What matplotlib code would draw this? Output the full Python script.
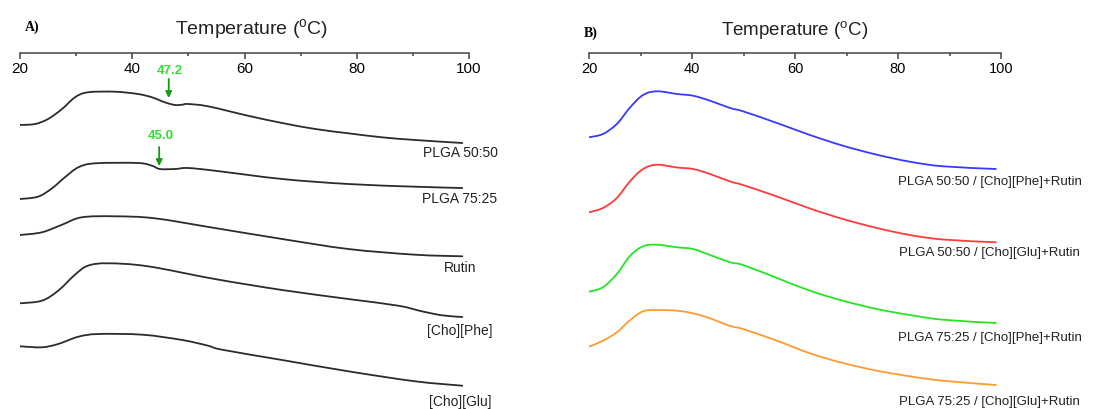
import numpy as np
import matplotlib.pyplot as plt
from matplotlib.path import Path
from matplotlib.patches import PathPatch

plt.rcParams['font.family'] = ['Liberation Sans', 'DejaVu Sans']

# ---- panel A: DSC traces (y in plot units, downward = larger) ----
t_5050 = [20, 22.7, 25.0, 27.5, 29.8, 32.1, 36.9, 41.0, 43.5, 45.8, 47.6, 48.9, 49.9, 53.5, 60.6, 66.7, 72.6, 78.5, 84.5, 90.4, 98.8]
y_5050 = [126, 125, 120, 110, 98.3, 93.3, 92.7, 95, 98.3, 103.3, 106, 105.7, 105, 107.3, 116.7, 124, 130, 134.3, 138.3, 141, 144]

t_7525 = [20, 23.2, 25.7, 28.0, 30.4, 33.4, 41.0, 43.5, 44.9, 47.6, 49.9, 54.7, 66.7, 78.5, 90.4, 98.8]
y_7525 = [200, 197.7, 189.3, 178.3, 168.3, 164.3, 164, 166.7, 170, 170, 169, 171.7, 180, 185, 187.7, 189]

t_rutin = [20, 23.9, 27.5, 31.0, 36.9, 44.0, 54.7, 66.7, 78.5, 90.4, 98.8]
y_rutin = [236, 233.3, 225.7, 218.3, 217.3, 219.3, 229, 240, 250, 255.7, 257.3]

t_phe = [20, 23.9, 26.8, 29.8, 32.1, 35.7, 42.8, 54.7, 66.7, 78.5, 87.4, 91.6, 95.2, 98.8]
y_phe = [304.3, 301.7, 291.7, 275.7, 266.7, 264.3, 267.3, 280, 291, 300, 306.7, 312.3, 316.3, 318]

t_glu = [20, 23.9, 26.8, 30.4, 34.0, 41.8, 48.9, 53.5, 56.0, 66.7, 78.5, 90.4, 98.8]
y_glu = [347.3, 348.3, 345, 337.7, 335, 335.7, 341, 346.7, 350.7, 361, 372.3, 382.3, 386.7]

names_a = ['PLGA 50:50', 'PLGA 75:25', 'Rutin', '[Cho][Phe]', '[Cho][Glu]']
label_y_a = [153, 199, 267.7, 330.7, 401.7]

# transition markers (label, x position, text y, arrow tail y, arrow tip y)
tg_labels = ['47.2', '45.0']
tg_x = [46.5, 44.8]
tg_text_y = [71, 136]
tg_tail_y = [80, 148]
tg_tip_y = [99, 167]

# ---- panel B ----
t_b = [20, 22.7, 25.4, 28.0, 30.5, 33.2, 37.1, 40.2, 43.5, 47.4, 49.9, 56.5, 62.9, 69.3, 75.9, 82.3, 88.7, 99.0]
y_5050_phe = [138.3, 135, 125, 108.3, 96, 92.3, 95, 96.7, 101.7, 109, 112.3, 124, 136, 146.7, 155.7, 162.7, 167.3, 170]
y_5050_glu = [213.3, 209, 199, 182, 170, 165.7, 168.5, 170, 175, 182.5, 186, 197.5, 209.5, 220, 229, 236, 240.5, 243.3]
y_7525_phe = [292.7, 288.3, 275, 256.7, 247.3, 245.7, 248.3, 250, 256, 263.3, 266, 279, 291.7, 301.7, 310, 316, 320.7, 324]
y_7525_glu = [347.7, 341.7, 333.3, 321, 312.3, 311, 311.7, 314.3, 319.3, 327, 330, 341.7, 354.3, 364, 371.7, 377.3, 381.7, 386]

names_b = ['PLGA 50:50 / [Cho][Phe]+Rutin', 'PLGA 50:50 / [Cho][Glu]+Rutin',
           'PLGA 75:25 / [Cho][Phe]+Rutin', 'PLGA 75:25 / [Cho][Glu]+Rutin']
label_y_b = [181.7, 253.3, 338.3, 401.7]
colors_b = ['#3838ff', '#ff3a3a', '#22e622', '#ff9a30']

W, H = 1094, 410
fig = plt.figure(figsize=(W / 100, H / 100), dpi=100)


def smooth_line(ax, xs, ys, color, lw=1.3):
    # draw the points as a Catmull-Rom curve made of cubic Bezier segments
    p = np.column_stack([xs, ys]).astype(float)
    ext = np.vstack([p[0], p, p[-1]])
    verts = [tuple(p[0])]
    codes = [Path.MOVETO]
    for i in range(1, len(ext) - 2):
        p0, p1, p2, p3 = ext[i - 1], ext[i], ext[i + 1], ext[i + 2]
        c1 = p1 + (p2 - p0) / 6
        c2 = p2 - (p3 - p1) / 6
        verts += [tuple(c1), tuple(c2), tuple(p2)]
        codes += [Path.CURVE4] * 3
    ax.add_patch(PathPatch(Path(verts, codes), facecolor='none', edgecolor=color, lw=lw,
                           capstyle='round', joinstyle='round'))


def temp_axis(left_px, right_px, spine_px, fs):
    axx = fig.add_axes([left_px / W, 1 - spine_px / H, (right_px - left_px) / W, 0.001])
    axx.set_xlim(20, 100)
    axx.set_facecolor('none')
    for s in ['top', 'left', 'right']:
        axx.spines[s].set_visible(False)
    axx.spines['bottom'].set_color('#444444')
    axx.spines['bottom'].set_linewidth(1.1)
    axx.set_yticks([])
    axx.set_xticks([20, 40, 60, 80, 100])
    axx.set_xticks([30, 50, 70, 90], minor=True)
    axx.tick_params(axis='x', which='major', direction='out', length=4.5, width=1.1,
                    color='#444444', labelsize=fs, pad=1.5)
    axx.tick_params(axis='x', which='minor', direction='out', length=2.2, width=1.1, color='#444444')
    return axx


def curve_axes(left_px, right_px):
    ax = fig.add_axes([left_px / W, 0, (right_px - left_px) / W, 1])
    ax.set_xlim(20, 100)
    ax.set_ylim(H, 0)
    ax.axis('off')
    return ax


# panel A
temp_axis(20, 469, 54, 11)
ax_a = curve_axes(20, 469)
for t, y in zip([t_5050, t_7525, t_rutin, t_phe, t_glu], [y_5050, y_7525, y_rutin, y_phe, y_glu]):
    smooth_line(ax_a, t, y, '#2b2b2b')
for name, ly in zip(names_a, label_y_a):
    ax_a.text(98.4, ly, name, ha='center', va='center', fontsize=10, color='#222222')
for lab, tx, ty, y0, y1 in zip(tg_labels, tg_x, tg_text_y, tg_tail_y, tg_tip_y):
    ax_a.annotate('', xy=(tx, y1), xytext=(tx, y0),
                  arrowprops=dict(arrowstyle='-|>', color='#139a13', lw=1.3, mutation_scale=9,
                                  shrinkA=0, shrinkB=0))
    ax_a.text(tx + 0.2, ty, lab, ha='center', va='center', fontsize=9.5, fontweight='bold',
              color='#33dd33')

# panel B
temp_axis(589, 1001, 54, 10.5)
ax_b = curve_axes(589, 1001)
for y, c in zip([y_5050_phe, y_5050_glu, y_7525_phe, y_7525_glu], colors_b):
    smooth_line(ax_b, t_b, y, c)
for name, ly in zip(names_b, label_y_b):
    ax_b.text(97.8, ly, name, ha='center', va='center', fontsize=9.5, color='#222222')

# titles and panel letters
fig.text(252 / W, 1 - 30 / H, 'Temperature ($^{\\mathregular{o}}$C)', ha='center', va='center',
         fontsize=14, color='#222222')
fig.text(795 / W, 1 - 31 / H, 'Temperature ($^{\\mathregular{o}}$C)', ha='center', va='center',
         fontsize=13.5, color='#222222')
fig.text(25 / W, 1 - 27 / H, 'A)', ha='left', va='center', fontsize=10, fontweight='bold',
         family='Liberation Serif')
fig.text(584 / W, 1 - 33 / H, 'B)', ha='left', va='center', fontsize=10, fontweight='bold',
         family='Liberation Serif')

fig.savefig('out.png', dpi=100)
